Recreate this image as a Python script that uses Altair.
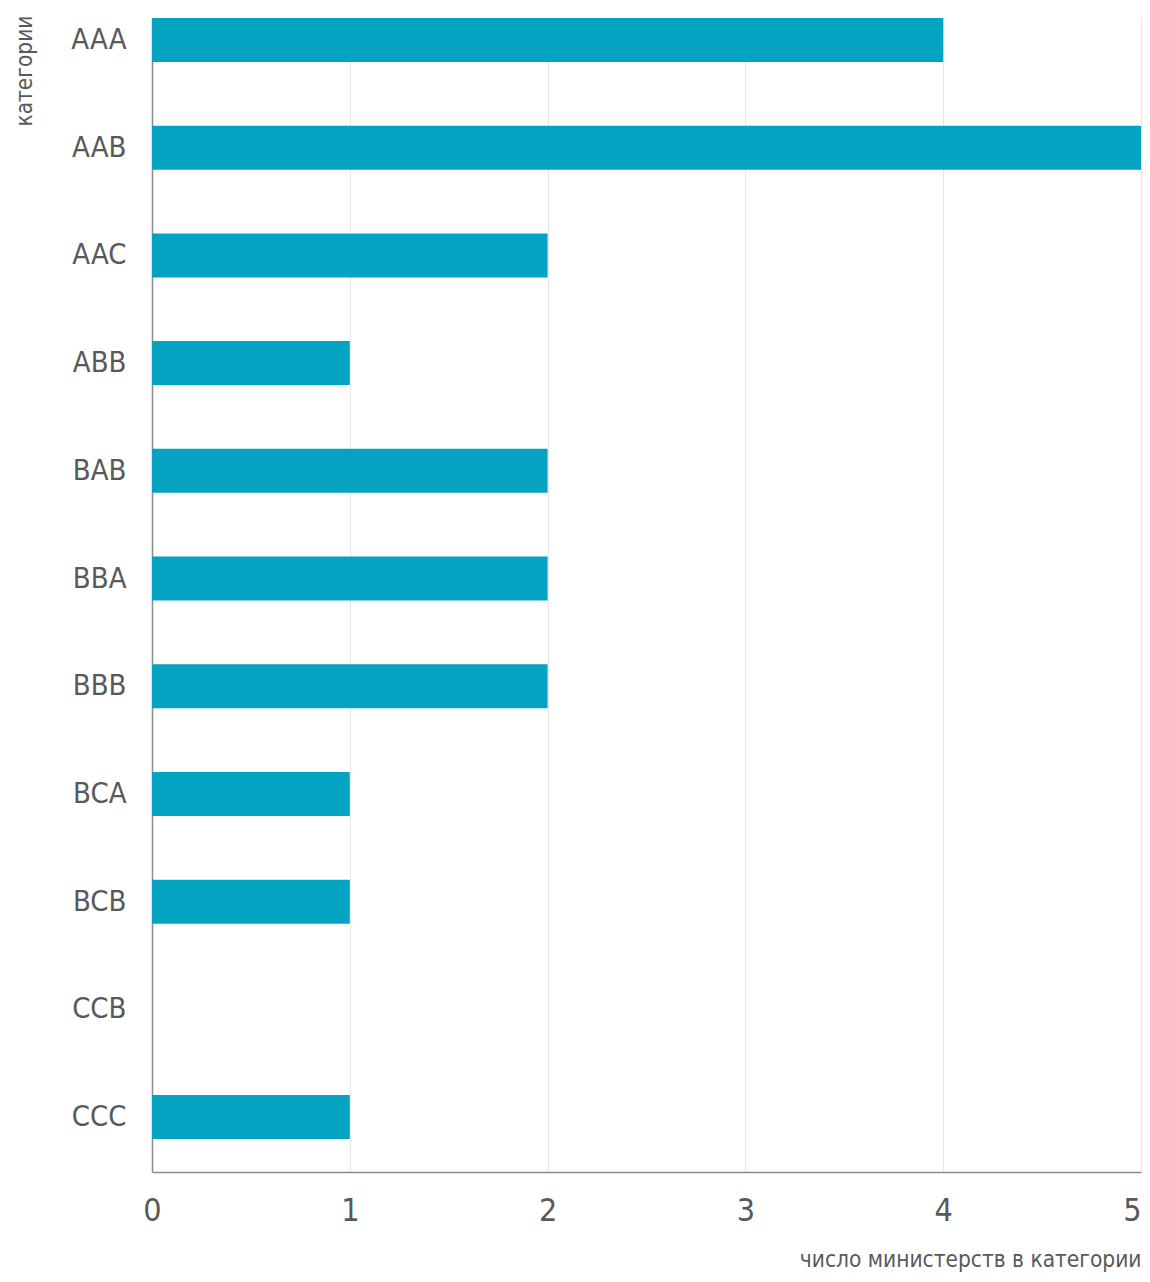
import altair as alt
import pandas as pd

categories = ["AAA", "AAB", "AAC", "ABB", "BAB", "BBA", "BBB", "BCA", "BCB", "CCB", "CCC"]
counts = [4, 5, 2, 1, 2, 2, 2, 1, 1, 0, 1]
x_ticks = [0, 1, 2, 3, 4, 5]

df = pd.DataFrame({"category": categories, "count": counts})

FONT = "DejaVu Sans Condensed, sans-serif"
TEXT = "#595959"

chart = alt.Chart(df).mark_bar(color="#04A3C1").encode(
    x=alt.X(
        "count:Q",
        scale=alt.Scale(domain=[0, 5], nice=False),
        axis=alt.Axis(
            title="число министерств в категории",
            values=x_ticks,
            format="d",
            grid=True,
            gridColor="#e6e6e6",
            gridWidth=1,
            domainColor="#8c8c8c",
            domainWidth=1.5,
            ticks=False,
            labelFont=FONT,
            labelFontSize=32,
            labelColor=TEXT,
            labelPadding=23,
            labelFlush=False,
            labelAlign=alt.expr("datum.value === 5 ? 'right' : 'center'"),
            labelOverlap=False,
            titleFont=FONT,
            titleFontSize=22.5,
            titleFontWeight="normal",
            titleColor=TEXT,
            titleAnchor="end",
            titleAlign="right",
            titleBaseline="alphabetic",
            titleX=989,
            titleY=94,
        ),
    ),
    y=alt.Y(
        "category:N",
        sort=categories,
        scale=alt.Scale(paddingInner=0.5915, paddingOuter=0.153, align=0),
        axis=alt.Axis(
            title="категории",
            grid=False,
            domainColor="#8c8c8c",
            domainWidth=1.5,
            ticks=False,
            labelFont=FONT,
            labelFontSize=29,
            labelColor=TEXT,
            labelPadding=26,
            titleFont=FONT,
            titleFontSize=22.5,
            titleFontWeight="normal",
            titleColor=TEXT,
            titleAngle=270,
            titleAlign="right",
            titleBaseline="alphabetic",
            titleX=-121,
            titleY=-3,
        ),
    ),
).properties(
    width=989,
    height=1154,
    autosize=alt.AutoSizeParams(type="none"),
    padding={"left": 144, "top": 10, "right": 1, "bottom": 100},
).configure_view(stroke=None)

chart.save("out.html", embed_options={"renderer": "svg", "actions": False})
